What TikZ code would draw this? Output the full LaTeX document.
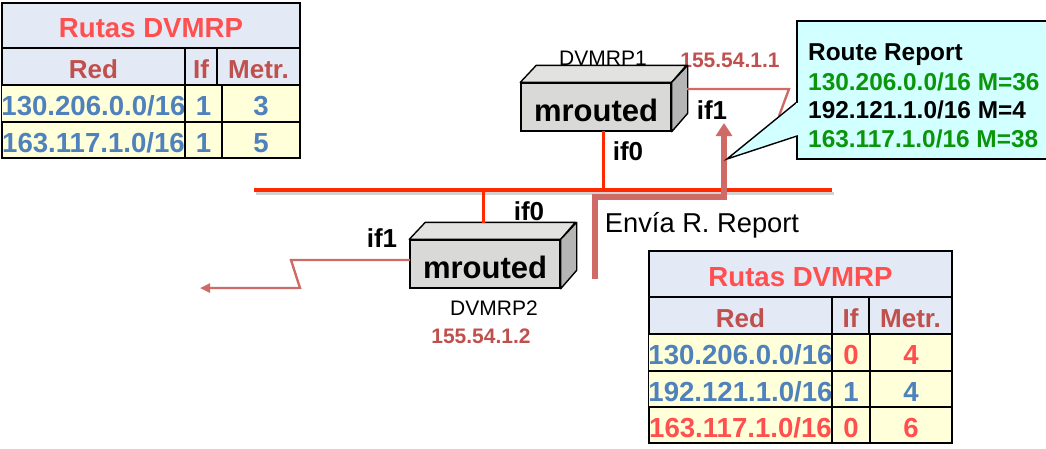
\documentclass[tikz,border=0pt]{standalone}
\usepackage{fontspec}
\setmainfont{Liberation Sans}
\usetikzlibrary{arrows.meta}
\definecolor{titlered}{HTML}{FF4F4F}
\definecolor{headred}{HTML}{C0504D}
\definecolor{cellblue}{HTML}{4F81BD}
\definecolor{headfill}{HTML}{E3EAF5}
\definecolor{rowfill}{HTML}{FFFFD9}
\definecolor{callfill}{HTML}{D2FFFF}
\definecolor{repgreen}{HTML}{0A960A}
\definecolor{busred}{HTML}{FF2A00}
\definecolor{linkred}{HTML}{CF6A66}
\definecolor{boxfront}{HTML}{D9DAD8}
\definecolor{boxtop}{HTML}{E2E3E1}
\definecolor{boxside}{HTML}{B5B5B5}
\newcommand{\fs}[1]{\fontsize{#1}{#1}\selectfont}
\newcommand{\tcell}[8]{\node[tablecell,fill=#6,text=#7,minimum width={#4-#2},minimum height={#5-#3}] (#1) at ({(#2+#4)/2},{(#3+#5)/2}) {#8};}
\tikzset{
  tablecell/.style={draw=black,line width=1.7pt,inner sep=0pt,font=\fs{27.6}\bfseries,text height=24pt,text depth=0pt},
  routerfront/.style={draw=black,line width=1.4pt,fill=boxfront,inner sep=0pt,font=\fs{31}\bfseries,text height=28pt,text depth=0pt},
  boxface/.style={draw=black,line width=1.4pt,line join=round},
  iflabel/.style={font=\fs{26}\bfseries,inner sep=0pt},
  namelabel/.style={font=\fs{21},inner sep=0pt},
  iplabel/.style={font=\fs{21}\bfseries,text=headred,inner sep=0pt},
  busline/.style={draw=busred,line width=4pt},
  stubline/.style={draw=busred,line width=3pt},
  linkline/.style={draw=linkred,line width=2.4pt,line join=miter},
  reportline/.style={draw=linkred,line width=5.5pt,line join=miter},
  reporttext/.style={font=\fs{24.4}\bfseries,inner sep=0pt,anchor=west},
}
\begin{document}
\begin{tikzpicture}[x=1pt,y=-1pt]
\useasboundingbox (0,0) rectangle (1046,448);
\coordinate (busL) at (254,190);
\coordinate (busR) at (832,190);
\coordinate (busA) at (603,190);
\coordinate (busB) at (483,190);
\draw[gray!35,line width=3pt] (256,193) -- (834,193);
\draw[busline] (busL) -- (busR);
\node[namelabel] (name1) at (603,58) {DVMRP1};
\node[iplabel] (ip1) at (730,60) {155.54.1.1};
% router 1
\node[routerfront,minimum width=150pt,minimum height=48pt] (r1) at (596,107) {mrouted};
\filldraw[boxface,fill=boxtop] (r1.north west) -- ++(16,-17) -- ++(150,0) -- (r1.north east) -- cycle;
\filldraw[boxface,fill=boxside] (r1.north east) -- ++(16,-17) -- ++(0,48) -- (r1.south east) -- cycle;
\coordinate (r1link) at (687,89);
\coordinate (z1a) at (789,89);
\coordinate (z1b) at (779,116);
\draw[linkline] (r1link) -- (z1a) -- (z1b);
% router 2
\node[routerfront,minimum width=150pt,minimum height=48pt] (r2) at (485,264) {mrouted};
\filldraw[boxface,fill=boxtop] (r2.north west) -- ++(16,-17) -- ++(150,0) -- (r2.north east) -- cycle;
\filldraw[boxface,fill=boxside] (r2.north east) -- ++(16,-17) -- ++(0,48) -- (r2.south east) -- cycle;
\coordinate (r1foot) at (603,131);
\coordinate (r2top) at (483,223);
\draw[stubline] (r1foot) -- (busA);
\draw[stubline] (busB) -- (r2top);
\coordinate (r2link) at (410,260);
\coordinate (z2a) at (291,260);
\coordinate (z2b) at (300,288);
\coordinate (z2c) at (200,288);
\draw[linkline,-{Triangle[length=10pt,width=9pt]}] (r2link) -- (z2a) -- (z2b) -- (z2c);
% labels
\node[iflabel] (if01) at (628,151) {if0};
\node[iflabel] (if11) at (712,110) {if1};
\node[iflabel] (if02) at (529,211) {if0};
\node[iflabel] (if12) at (382,238) {if1};
\node[namelabel] (name2) at (494,308) {DVMRP2};
\node[iplabel] (ip2) at (481,336) {155.54.1.2};
\node[font=\fs{27.3},inner sep=0pt] (envia) at (702,225) {Envía R. Report};
% report arrow
\coordinate (repS) at (595,279);
\coordinate (repA) at (595,197);
\coordinate (repB) at (724,197);
\coordinate (repE) at (724,123);
\draw[reportline,-{Triangle[length=13pt,width=16pt]}] (repS) -- (repA) -- (repB) -- (repE);
% callout
\coordinate (tip) at (727,159);
\coordinate (cu) at (797,102);
\coordinate (cd) at (797,136);
\node[draw=black,line width=1.4pt,fill=callfill,minimum width=253pt,minimum height=138pt,inner sep=0pt] (call) at (923.5,90) {};
\filldraw[draw=black,line width=1.4pt,fill=callfill,line join=miter] (cu) -- (tip) -- (cd);
\fill[callfill] (796,103) rectangle (798,135);
\node[reporttext] (rr0) at (808,55) {Route Report};
\node[reporttext,text=repgreen] (rr1) at (808,82) {130.206.0.0/16 M=36};
\node[reporttext,text=black] (rr2) at (808,110) {192.121.1.0/16 M=4};
\node[reporttext,text=repgreen] (rr3) at (808,139) {163.117.1.0/16 M=38};
% table 1
\tcell{at}{2}{3}{300}{48}{headfill}{titlered}{Rutas DVMRP}
\tcell{ah1}{2}{48}{185}{85}{headfill}{headred}{\fs{26}Red}
\tcell{ah2}{185}{48}{217}{85}{headfill}{headred}{\fs{26}If}
\tcell{ah3}{217}{48}{300}{85}{headfill}{headred}{\fs{26}Metr.}
\tcell{a11}{2}{85}{185}{122}{rowfill}{cellblue}{130.206.0.0/16}
\tcell{a12}{185}{85}{222}{122}{rowfill}{cellblue}{1}
\tcell{a13}{222}{85}{300}{122}{rowfill}{cellblue}{3}
\tcell{a21}{2}{122}{185}{158}{rowfill}{cellblue}{163.117.1.0/16}
\tcell{a22}{185}{122}{222}{158}{rowfill}{cellblue}{1}
\tcell{a23}{222}{122}{300}{158}{rowfill}{cellblue}{5}
% table 2
\tcell{bt}{649}{251}{952}{297}{headfill}{titlered}{Rutas DVMRP}
\tcell{bh1}{649}{297}{832}{334}{headfill}{headred}{\fs{26}Red}
\tcell{bh2}{832}{297}{869}{334}{headfill}{headred}{\fs{26}If}
\tcell{bh3}{869}{297}{952}{334}{headfill}{headred}{\fs{26}Metr.}
\tcell{b11}{649}{334}{832}{371}{rowfill}{cellblue}{130.206.0.0/16}
\tcell{b12}{832}{334}{870}{371}{rowfill}{titlered}{0}
\tcell{b13}{870}{334}{952}{371}{rowfill}{titlered}{4}
\tcell{b21}{649}{371}{832}{407}{rowfill}{cellblue}{192.121.1.0/16}
\tcell{b22}{832}{371}{870}{407}{rowfill}{cellblue}{1}
\tcell{b23}{870}{371}{952}{407}{rowfill}{cellblue}{4}
\tcell{b31}{649}{407}{832}{443}{rowfill}{titlered}{163.117.1.0/16}
\tcell{b32}{832}{407}{870}{443}{rowfill}{titlered}{0}
\tcell{b33}{870}{407}{952}{443}{rowfill}{titlered}{6}
\end{tikzpicture}
\end{document}
